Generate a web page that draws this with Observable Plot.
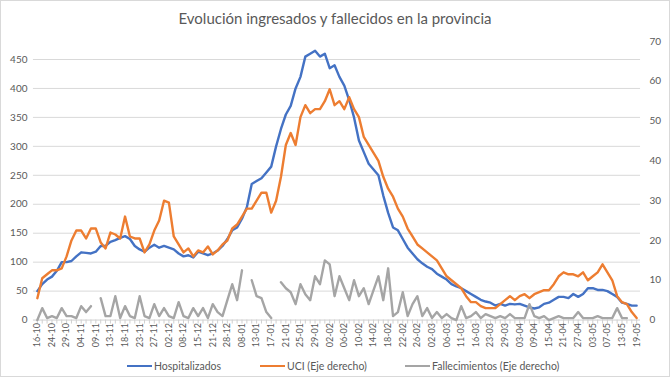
<!DOCTYPE html>
<html><head><meta charset="utf-8">
<script src="https://cdn.jsdelivr.net/npm/d3@7"></script>
<script src="https://cdn.jsdelivr.net/npm/@observablehq/plot@0.6"></script>
<style>
body{margin:0;background:#fff;font-family:Lato,sans-serif;}
#wrap{position:relative;width:670px;height:377px;box-sizing:border-box;border:1px solid #d9d9d9;overflow:hidden;background:#fff}
#title{position:absolute;top:8px;left:0;width:100%;text-align:center;font-size:15px;color:#595959}
#chart{position:absolute;top:29px;left:-1px}
.leg{position:absolute;top:359px;font-size:10.5px;color:#595959;display:flex;align-items:center;white-space:nowrap}
.leg span.sw{display:inline-block;width:25px;height:2.5px;margin-right:2px}
</style></head>
<body>
<div id="wrap">
  <div id="title">Evolución ingresados y fallecidos en la provincia</div>
  <div id="chart"></div>
  <div class="leg" style="left:126px"><span class="sw" style="background:#4472C4"></span>Hospitalizados</div>
  <div class="leg" style="left:259px"><span class="sw" style="background:#ED7D31"></span>UCI (Eje derecho)</div>
  <div class="leg" style="left:404px"><span class="sw" style="background:#A5A5A5"></span>Fallecimientos (Eje derecho)</div>
</div>
<script>
const dateLabels = ["16-10","24-10","29-10","04-11","09-11","13-11","18-11","23-11","27-11","02-12","08-12","15-12","21-12","28-12","08-01","13-01","17-01","21-01","25-01","29-01","02-02","06-02","10-02","14-02","18-02","22-02","26-02","02-03","06-03","11-03","16-03","23-03","29-03","03-04","09-04","15-04","21-04","27-04","03-05","07-05","13-05","19-05"];

// Hospitalizados (left axis)
const hosp = [50,62,70, 75,85,100, 100,102,110, 117,116,115, 118,128,128, 135,138,142,
  145,140,128, 122,118,125, 130,125,128, 125,122,115, 110,112,108, 118,115,112,
  115,120,128, 140,155,160, 175,195,235, 240,245,255, 265,300,330, 355,370,400,
  420,455,460, 465,455,460, 435,440,420, 405,380,350, 310,290,270, 260,250,215,
  185,160,155, 140,125,115, 105,98,92, 88,80,75, 70,62,58, 55,50,45,
  40,35,32, 30,25,28, 25,28,27, 28,25,22, 20,22,28, 30,35,40,
  40,38,45, 40,45,55, 55,52,52, 50,45,40, 30,28,25, 25];

// UCI (right axis)
const uci = [5.5,10.5,11.5, 12.5,12.5,13, 16,20,22.5, 22.5,20.5,23, 23,19.5,18, 22,21.5,20.5,
  26,21,20.5, 20.5,17,19, 22.5,25,30, 29.5,21,19, 17,18,16, 17.5,17,18.5,
  16.5,17.5,19, 20,23,24, 26,28,28, 30,32,32, 27,30,36, 44,47,44,
  51,54,52, 53,53,55, 58,54,55, 53,56,53, 51,46,44, 42,40,36,
  33,31,28, 26,23,21, 19,18,17, 16,15,13, 11,10,9, 8,6,4.5,
  4.5,3.5,3, 3,3,4, 5,6,5, 6,6.5,5.5, 6.5,7,7.5, 7.5,9,11,
  12,11.5,11.5, 11,12,10, 11,12,14, 12,10,6, 4.5,4,2, 0.5];

// Fallecimientos (right axis), null = no data
const fall = [0,3,0.5, 1,0.5,3, 1,1,0.5, 3.5,2,3.5, null,5.5,1, 1,6,0.5,
  3.5,1,0.5, 6,1,0.5, 4,1,3, 1,0.5,4.5, 1,0.5,3, 1,3,0.5,
  4,2,1, 5,9,5, 12.5,null,10, 6,5.5,2, 0.5,null,9.5, 8,7,4,
  9,6.5,5, 11,9,15, 14,6,11, 8,5,10, 6,8,4, 7.5,11,5,
  13,1,2, 7,1,4, 6,1,3, 0.5,2,0.5, 1.5,0.5,0, 3.5,0.5,1,
  2,0.5,1.5, 1,0.5,1, 0.5,1.5,0.5, 0.5,0.5,4, 1,0.5,1, 0,0.5,1,
  0.5,0.5,0.5, 2,0.5,0.5, 0.5,1,0.5, 0.5,0.5,3, 0.5,0.5,null, null];

const leftTicks = [0,50,100,150,200,250,300,350,400,450];
const rightTicks = [0,10,20,30,40,50,60,70];

const yMax = 481.1;
const k = yMax / 70;
const N = hosp.length;
const idx = d3.range(N);
const rows = idx.map(i => ({
  i,
  h: hosp[i],
  u: uci[i] == null ? null : uci[i] * k,
  f: fall[i] == null ? null : fall[i] * k
}));
const labelIdx = dateLabels.map((_, j) => j * 3);

const chart = Plot.plot({
  width: 670, height: 324,
  marginTop: 11, marginBottom: 34, marginLeft: 33, marginRight: 29,
  style: {fontFamily: "Lato, sans-serif", fontSize: "10px", color: "#595959", background: "transparent", overflow: "visible"},
  x: {domain: [-0.8, N - 1 + 0.8], label: null},
  y: {domain: [0, yMax], label: null},
  marks: [
    Plot.ruleY(leftTicks.slice(1), {stroke: "#d9d9d9", strokeWidth: 1}),
    Plot.ruleY([0], {stroke: "#d0d0d0", strokeWidth: 1}),
    Plot.axisY(leftTicks, {anchor: "left", label: null, tickSize: 0, tickPadding: 6, tickFormat: d => d, fill: "#595959"}),
    Plot.axisY(rightTicks.map(v => v * k), {anchor: "right", label: null, tickSize: 0, tickPadding: 9, tickFormat: d => Math.round(d / k), fill: "#595959"}),
    Plot.axisX(idx, {label: null, tickSize: 4, tickFormat: () => "", stroke: "#d0d0d0"}),
    Plot.axisX(labelIdx, {label: null, tickSize: 0, tickPadding: 3, tickRotate: -90, fontSize: 9, fill: "#595959", tickFormat: i => dateLabels[i / 3]}),
    Plot.line(rows, {x: "i", y: "h", stroke: "#4472C4", strokeWidth: 2.4}),
    Plot.line(rows, {x: "i", y: "u", stroke: "#ED7D31", strokeWidth: 2.4}),
    Plot.line(rows, {x: "i", y: "f", stroke: "#A5A5A5", strokeWidth: 2.4})
  ]
});
document.getElementById("chart").appendChild(chart);
</script>
</body></html>
